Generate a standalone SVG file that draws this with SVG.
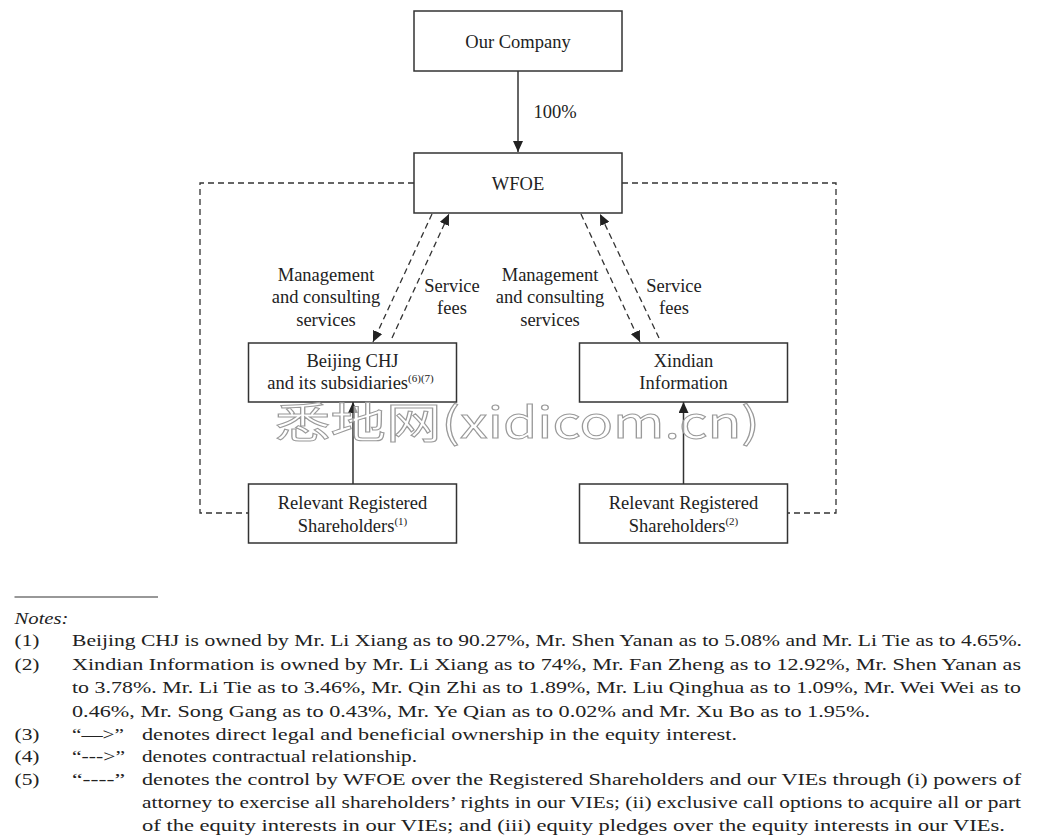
<svg xmlns="http://www.w3.org/2000/svg" width="1040" height="836" viewBox="0 0 1040 836">
<style>
.box{fill:#fff;stroke:#333;stroke-width:1.5}
.t{font-family:"Liberation Serif","Times New Roman",serif;font-size:18.5px;fill:#222;text-anchor:middle}
.sup{font-size:11px}
.solid{stroke:#333;stroke-width:1.5;fill:none}
.dash{stroke:#333;stroke-width:1.3;fill:none;stroke-dasharray:6 4}
.n{font-family:"Liberation Serif","Times New Roman",serif;font-size:17.5px;fill:#222}
.wm{font-family:"Noto Sans CJK SC","Liberation Mono",sans-serif;font-size:42px;fill:#fff;fill-opacity:0.55;stroke:#9a9a9a;stroke-width:1}
</style>
<defs>
<marker id="ah" markerUnits="userSpaceOnUse" markerWidth="12" markerHeight="10" refX="11" refY="5" orient="auto">
<path d="M0,0 L11,5 L0,10 z" fill="#222"/>
</marker>
</defs>
<rect width="1040" height="836" fill="#fff"/>

<g id="connectors">
<line class="solid" x1="518" y1="71" x2="518" y2="152" marker-end="url(#ah)"/>
<text class="t" x="555" y="118">100%</text>
<line class="dash" x1="432" y1="214" x2="373" y2="342" marker-end="url(#ah)"/>
<line class="dash" x1="392" y1="338" x2="449" y2="214" marker-end="url(#ah)"/>
<line class="dash" x1="581" y1="214" x2="640" y2="342" marker-end="url(#ah)"/>
<line class="dash" x1="659" y1="338" x2="600" y2="214" marker-end="url(#ah)"/>
<line class="solid" x1="353" y1="484" x2="353" y2="402" marker-end="url(#ah)"/>
<line class="solid" x1="683.5" y1="484" x2="683.5" y2="402" marker-end="url(#ah)"/>
<polyline class="dash" points="414,183 200,183 200,513 248,513"/>
<polyline class="dash" points="622,183 836,183 836,513 788,513"/>
<text class="t" x="326" y="281">Management</text>
<text class="t" x="326" y="303">and consulting</text>
<text class="t" x="326" y="326">services</text>
<text class="t" x="452" y="292">Service</text>
<text class="t" x="452" y="314">fees</text>
<text class="t" x="550" y="281">Management</text>
<text class="t" x="550" y="303">and consulting</text>
<text class="t" x="550" y="326">services</text>
<text class="t" x="674" y="292">Service</text>
<text class="t" x="674" y="314">fees</text>
</g>

<g id="our-company">
<rect class="box" x="414" y="11" width="208" height="60"/>
<text class="t" x="518" y="48">Our Company</text>
</g>
<g id="wfoe">
<rect class="box" x="414" y="153" width="208" height="60"/>
<text class="t" x="518" y="190">WFOE</text>
</g>
<g id="beijing-chj">
<rect class="box" x="248.5" y="343" width="208" height="59"/>
<text class="t" x="352.5" y="367">Beijing CHJ</text>
<text class="t" x="350.5" y="389">and its subsidiaries<tspan class="sup" dy="-7">(6)(7)</tspan></text>
</g>
<g id="xindian">
<rect class="box" x="579.5" y="343" width="208" height="59"/>
<text class="t" x="683.5" y="367">Xindian</text>
<text class="t" x="683.5" y="389">Information</text>
</g>
<g id="shareholders-1">
<rect class="box" x="248.5" y="484" width="208" height="59"/>
<text class="t" x="352.5" y="509">Relevant Registered</text>
<text class="t" x="352.5" y="532">Shareholders<tspan class="sup" dy="-7">(1)</tspan></text>
</g>
<g id="shareholders-2">
<rect class="box" x="579.5" y="484" width="208" height="59"/>
<text class="t" x="683.5" y="509">Relevant Registered</text>
<text class="t" x="683.5" y="532">Shareholders<tspan class="sup" dy="-7">(2)</tspan></text>
</g>

<text class="wm" x="275" y="438" textLength="485" lengthAdjust="spacingAndGlyphs">悉地网(xidicom.cn)</text>

<g id="notes">
<line x1="14.5" y1="597" x2="158" y2="597" stroke="#333" stroke-width="1.2"/>
<text class="n" x="14.5" y="624" font-style="italic" textLength="54" lengthAdjust="spacingAndGlyphs">Notes:</text>
<text class="n" x="14.5" y="646" textLength="25" lengthAdjust="spacingAndGlyphs">(1)</text>
<text class="n" x="72" y="646" textLength="950" lengthAdjust="spacingAndGlyphs">Beijing CHJ is owned by Mr. Li Xiang as to 90.27%, Mr. Shen Yanan as to 5.08% and Mr. Li Tie as to 4.65%.</text>
<text class="n" x="14.5" y="670" textLength="25" lengthAdjust="spacingAndGlyphs">(2)</text>
<text class="n" x="72" y="670" textLength="949" lengthAdjust="spacingAndGlyphs">Xindian Information is owned by Mr. Li Xiang as to 74%, Mr. Fan Zheng as to 12.92%, Mr. Shen Yanan as</text>
<text class="n" x="72" y="693" textLength="949" lengthAdjust="spacingAndGlyphs">to 3.78%. Mr. Li Tie as to 3.46%, Mr. Qin Zhi as to 1.89%, Mr. Liu Qinghua as to 1.09%, Mr. Wei Wei as to</text>
<text class="n" x="72" y="717" textLength="798" lengthAdjust="spacingAndGlyphs">0.46%, Mr. Song Gang as to 0.43%, Mr. Ye Qian as to 0.02% and Mr. Xu Bo as to 1.95%.</text>
<text class="n" x="14.5" y="740" textLength="25" lengthAdjust="spacingAndGlyphs">(3)</text>
<text class="n" x="72" y="740" textLength="52" lengthAdjust="spacingAndGlyphs">“—&gt;”</text>
<text class="n" x="142" y="740" textLength="595" lengthAdjust="spacingAndGlyphs">denotes direct legal and beneficial ownership in the equity interest.</text>
<text class="n" x="14.5" y="762" textLength="25" lengthAdjust="spacingAndGlyphs">(4)</text>
<text class="n" x="72" y="762" textLength="53" lengthAdjust="spacingAndGlyphs">“---&gt;”</text>
<text class="n" x="142" y="762" textLength="275" lengthAdjust="spacingAndGlyphs">denotes contractual relationship.</text>
<text class="n" x="14.5" y="785" textLength="25" lengthAdjust="spacingAndGlyphs">(5)</text>
<text class="n" x="72" y="785" textLength="53" lengthAdjust="spacingAndGlyphs">“----”</text>
<text class="n" x="142" y="785" textLength="879" lengthAdjust="spacingAndGlyphs">denotes the control by WFOE over the Registered Shareholders and our VIEs through (i) powers of</text>
<text class="n" x="142" y="808" textLength="879" lengthAdjust="spacingAndGlyphs">attorney to exercise all shareholders’ rights in our VIEs; (ii) exclusive call options to acquire all or part</text>
<text class="n" x="142" y="831" textLength="863" lengthAdjust="spacingAndGlyphs">of the equity interests in our VIEs; and (iii) equity pledges over the equity interests in our VIEs.</text>
</g>
</svg>
